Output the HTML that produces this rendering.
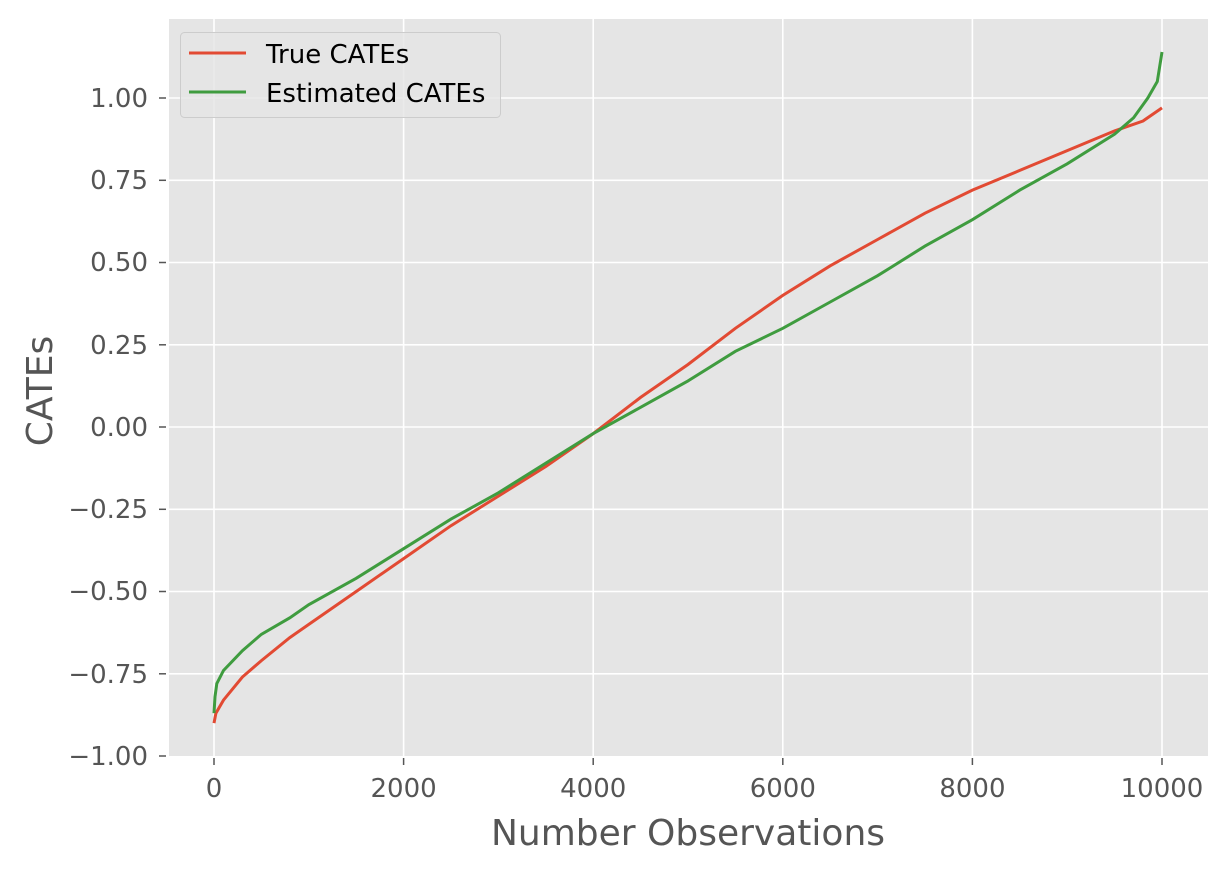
<!DOCTYPE html>
<html><head><meta charset="utf-8"><style>body{margin:0;background:#fff}svg{display:block}text{font-family:"DejaVu Sans","Liberation Sans",sans-serif}</style></head><body>
<svg width="1227" height="869" xmlns="http://www.w3.org/2000/svg">
<rect x="169" y="19" width="1039" height="737" fill="#e5e5e5"/>
<g stroke="#fff" stroke-width="1.6">
<line x1="214" y1="19" x2="214" y2="756"/><line x1="403.6" y1="19" x2="403.6" y2="756"/><line x1="593.2" y1="19" x2="593.2" y2="756"/><line x1="782.8" y1="19" x2="782.8" y2="756"/><line x1="972.4" y1="19" x2="972.4" y2="756"/><line x1="1162" y1="19" x2="1162" y2="756"/>
<line x1="169" y1="98" x2="1208" y2="98"/><line x1="169" y1="180.3" x2="1208" y2="180.3"/><line x1="169" y1="262.5" x2="1208" y2="262.5"/><line x1="169" y1="344.8" x2="1208" y2="344.8"/><line x1="169" y1="427" x2="1208" y2="427"/><line x1="169" y1="509.3" x2="1208" y2="509.3"/><line x1="169" y1="591.5" x2="1208" y2="591.5"/><line x1="169" y1="673.8" x2="1208" y2="673.8"/>
</g>
<g stroke="#555" stroke-width="1.5">
<line x1="214" y1="758" x2="214" y2="765"/><line x1="403.6" y1="758" x2="403.6" y2="765"/><line x1="593.2" y1="758" x2="593.2" y2="765"/><line x1="782.8" y1="758" x2="782.8" y2="765"/><line x1="972.4" y1="758" x2="972.4" y2="765"/><line x1="1162" y1="758" x2="1162" y2="765"/>
<line x1="159" y1="98" x2="166" y2="98"/><line x1="159" y1="180.3" x2="166" y2="180.3"/><line x1="159" y1="262.5" x2="166" y2="262.5"/><line x1="159" y1="344.8" x2="166" y2="344.8"/><line x1="159" y1="427" x2="166" y2="427"/><line x1="159" y1="509.3" x2="166" y2="509.3"/><line x1="159" y1="591.5" x2="166" y2="591.5"/><line x1="159" y1="673.8" x2="166" y2="673.8"/><line x1="159" y1="756" x2="166" y2="756"/>
</g>
<g fill="#555" font-size="26" text-anchor="middle">
<text x="214" y="797">0</text><text x="403.6" y="797">2000</text><text x="593.2" y="797">4000</text><text x="782.8" y="797">6000</text><text x="972.4" y="797">8000</text><text x="1162" y="797">10000</text>
</g>
<g fill="#555" font-size="26" text-anchor="end">
<text x="148" y="107">1.00</text><text x="148" y="189">0.75</text><text x="148" y="271">0.50</text><text x="148" y="354">0.25</text><text x="148" y="436">0.00</text><text x="148" y="518">−0.25</text><text x="148" y="600">−0.50</text><text x="148" y="683">−0.75</text><text x="148" y="765">−1.00</text>
</g>
<text x="688" y="845" fill="#555" font-size="36" text-anchor="middle">Number Observations</text>
<text transform="translate(52,391) rotate(-90)" fill="#555" font-size="36" text-anchor="middle">CATEs</text>
<polyline fill="none" stroke="#e24a33" stroke-width="3" points="214,723.1 215.9,713.2 223.5,700.1 242.4,677 261.4,660.6 289.8,637.6 308.8,624.4 356.2,591.5 403.6,558.6 451,525.7 498.4,496.1 545.8,466.5 593.2,433.6 640.6,397.4 688,364.5 735.4,328.3 782.8,295.4 830.2,265.8 877.6,239.5 925,213.2 972.4,190.1 1019.8,170.4 1067.2,150.6 1114.6,130.9 1143,121 1162,107.9"/>
<polyline fill="none" stroke="#3f9c3f" stroke-width="3" points="214,713.2 215,696.8 216.8,683.6 223.5,670.5 242.4,650.7 261.4,634.3 289.8,617.8 308.8,604.7 356.2,578.3 403.6,548.7 451,519.1 498.4,492.8 545.8,463.2 593.2,433.6 640.6,407.3 688,380.9 735.4,351.3 782.8,328.3 830.2,302 877.6,275.7 925,246.1 972.4,219.7 1019.8,190.1 1067.2,163.8 1114.6,134.2 1133.6,117.7 1147.8,98 1157.3,81.5 1162,52"/>
<rect x="180.5" y="32.5" width="320" height="85" rx="4" fill="#e5e5e5" fill-opacity="0.8" stroke="#ccc" stroke-width="1"/>
<line x1="189" y1="53" x2="246" y2="53" stroke="#e24a33" stroke-width="3"/>
<line x1="189" y1="92" x2="246" y2="92" stroke="#3f9c3f" stroke-width="3"/>
<text x="266" y="63" font-size="26" fill="#000">True CATEs</text>
<text x="266" y="102" font-size="26" fill="#000">Estimated CATEs</text>
</svg>
</body></html>
